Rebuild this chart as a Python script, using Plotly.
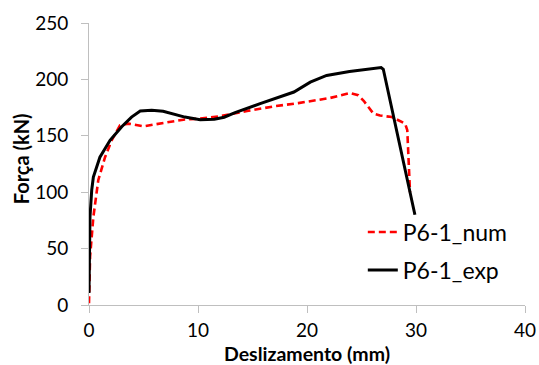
import plotly.graph_objects as go

# Load-slip curves (slip in mm, force in kN)
slip_num = [0.0, 0.05, 0.1, 0.4, 0.85, 1.47, 2.08, 2.84, 3.6, 5.0, 6.67, 8.65,
            10.2, 12.0, 14.5, 16.9, 19.2, 22.1, 23.9, 24.7, 25.2, 25.8, 26.1,
            26.7, 27.6, 27.8, 29.0, 29.2, 29.45]
force_num = [1.5, 20, 43, 78, 110.6, 131, 146, 159.3, 160.8, 158.4, 161.3, 164.3,
             165.2, 167.3, 172, 176, 179, 183.5, 187.9, 186, 181, 174, 169.6,
             168, 166.6, 166.6, 160.8, 155, 100]

slip_exp = [0.0, 0.05, 0.09, 0.25, 0.4, 1.0, 1.93, 3.0, 3.9, 4.7, 5.75, 6.8,
            7.9, 8.8, 10.2, 11.5, 12.4, 13.4, 15.7, 17.5, 18.8, 20.3, 21.8, 23.9,
            26.5, 26.8, 27.0, 29.9]
force_exp = [10.6, 50, 78, 102, 113.5, 131, 146, 158, 166.6, 172, 172.6, 171.7,
             169, 166.6, 164.3, 164.6, 166.5, 170.5, 178.5, 184.3, 188.8, 197.6, 203.5, 207,
             210, 210.5, 209, 80]

x_ticks = [0, 10, 20, 30, 40]
y_ticks = [0, 50, 100, 150, 200, 250]

FONT = "Lato"
AXIS_GREY = "#bfbfbf"

fig = go.Figure()
fig.add_trace(go.Scatter(
    x=slip_num, y=force_num, mode="lines", name="P6-1_num",
    line=dict(color="#ff0000", width=2.6, dash="7px,4px"),
    legendgroup="num",
))
fig.add_trace(go.Scatter(
    x=slip_exp, y=force_exp, mode="lines", name="P6-1_exp",
    line=dict(color="#000000", width=3),
    legendgroup="exp",
))

axis_common = dict(
    showgrid=False, zeroline=False, showline=True, linecolor=AXIS_GREY,
    linewidth=1, ticks="outside", tickcolor=AXIS_GREY, ticklen=7, tickwidth=1,
    tickfont=dict(family=FONT, size=19, color="#000000"), automargin=False,
)

fig.update_layout(
    width=539, height=365,
    margin=dict(l=89, r=14, t=23, b=60),
    paper_bgcolor="white", plot_bgcolor="white",
    xaxis=dict(range=[0, 40], tickvals=x_ticks, ticklabelstandoff=1, **axis_common),
    yaxis=dict(range=[0, 250], tickvals=y_ticks, ticklabelstandoff=9, **axis_common),
    showlegend=True,
    legend=dict(
        x=0.628, y=0.335, xanchor="left", yanchor="top",
        font=dict(family=FONT, size=23, color="#000000"),
        bgcolor="rgba(0,0,0,0)", tracegroupgap=5,
    ),
    annotations=[
        dict(text="<b>Deslizamento (mm)</b>", xref="paper", yref="paper",
             x=0.5, y=-0.173, xanchor="center", yanchor="middle",
             showarrow=False, font=dict(family=FONT, size=19.5, color="#000000")),
        dict(text="<b>Força (kN)</b>", xref="paper", yref="paper",
             x=-0.154, y=0.52, xanchor="center", yanchor="middle", textangle=-90,
             showarrow=False, font=dict(family=FONT, size=20, color="#000000")),
    ],
)

fig.write_html("out.html")
